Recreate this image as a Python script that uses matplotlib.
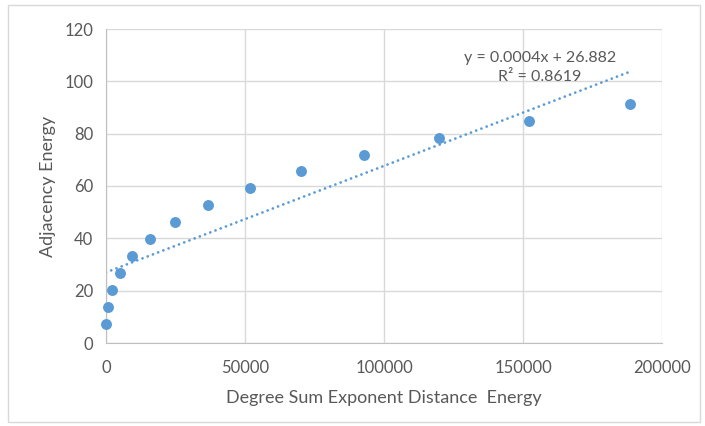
import matplotlib
matplotlib.use("Agg")
import matplotlib.pyplot as plt
import numpy as np
from matplotlib.patches import Rectangle

x_vals = [0, 700, 2200, 5000, 9400, 15800, 24800, 36700, 51800, 70100, 92800, 119800, 152000, 188500]
y_vals = [7.3, 13.8, 20.3, 26.8, 33.2, 39.7, 46.2, 52.7, 59.2, 65.7, 71.8, 78.3, 84.8, 91.3]
x_ticks = [0, 50000, 100000, 150000, 200000]
y_ticks = [0, 20, 40, 60, 80, 100, 120]
eq_text = "y = 0.0004x + 26.882\nR² = 0.8619"
x_label = "Degree Sum Exponent Distance  Energy"
y_label = "Adjacency Energy"

plt.rcParams['font.family'] = ['Lato', 'DejaVu Sans']
gray = '#595959'
blue = '#5B9BD5'

fig = plt.figure(figsize=(7.05, 4.26), dpi=100)
fig.patches.append(Rectangle((8/705, 4/426), 692/705, 417/426, transform=fig.transFigure,
                             fill=False, edgecolor='#D9D9D9', linewidth=1))
ax = fig.add_axes([106/705, 1-343/426, (662-106)/705, (343-29)/426])

xs = np.array(x_vals, dtype=float)
ys = np.array(y_vals, dtype=float)
m, b = np.polyfit(xs, ys, 1)
xl = np.array([0, xs.max()])
ax.plot(xl, m*xl + b, color=blue, linestyle=(0, (0.01, 2.0)), linewidth=2.0,
        dash_capstyle='round', zorder=2)
ax.scatter(xs, ys, s=62, color=blue, zorder=3, linewidths=0, clip_on=False)

ax.set_xlim(0, 200000)
ax.set_ylim(0, 120)
ax.set_xticks(x_ticks)
ax.set_yticks(y_ticks)
ax.grid(True, color='#D9D9D9', linewidth=1)
ax.set_axisbelow(True)
for s in ['top', 'right']:
    ax.spines[s].set_visible(False)
ax.spines['left'].set_color('#BFBFBF')
ax.spines['bottom'].set_color('#BFBFBF')
ax.tick_params(length=0, labelsize=12, colors=gray)
ax.tick_params(axis='x', pad=12)
ax.tick_params(axis='y', pad=9)
ax.set_xlabel(x_label, fontsize=13, color=gray, labelpad=10)
ax.set_ylabel(y_label, fontsize=13, color=gray, labelpad=6)
ax.text(0.78, 0.93, eq_text, transform=ax.transAxes, ha='center', va='top',
        fontsize=11.5, color=gray, linespacing=1.45, multialignment='center')

fig.savefig("out.png", dpi=100)
